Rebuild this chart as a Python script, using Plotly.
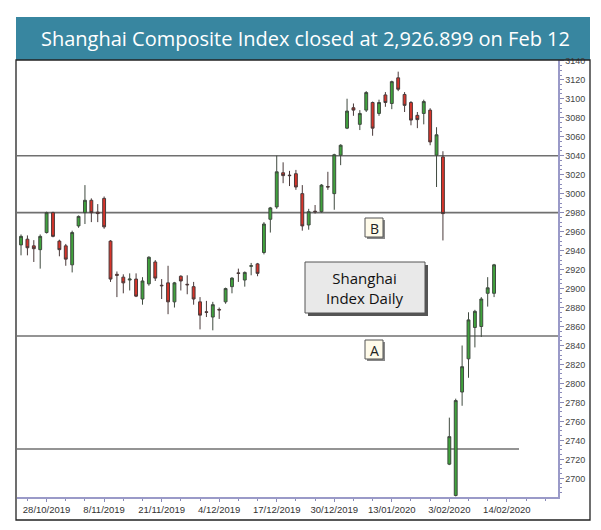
import plotly.graph_objects as go

# ---------------- data ----------------
dates = [
    "2019-10-22", "2019-10-23", "2019-10-24", "2019-10-25", "2019-10-28", "2019-10-29", "2019-10-30", "2019-10-31",
    "2019-11-01", "2019-11-04", "2019-11-05", "2019-11-06", "2019-11-07", "2019-11-08", "2019-11-11", "2019-11-12",
    "2019-11-13", "2019-11-14", "2019-11-15", "2019-11-18", "2019-11-19", "2019-11-20", "2019-11-21", "2019-11-22",
    "2019-11-25", "2019-11-26", "2019-11-27", "2019-11-28", "2019-11-29",
    "2019-12-02", "2019-12-03", "2019-12-04", "2019-12-05", "2019-12-06", "2019-12-09", "2019-12-10", "2019-12-11",
    "2019-12-12", "2019-12-13", "2019-12-16", "2019-12-17", "2019-12-18", "2019-12-19", "2019-12-20", "2019-12-23",
    "2019-12-24", "2019-12-25", "2019-12-26", "2019-12-27", "2019-12-30", "2019-12-31",
    "2020-01-02", "2020-01-03", "2020-01-06", "2020-01-07", "2020-01-08", "2020-01-09", "2020-01-10", "2020-01-13",
    "2020-01-14", "2020-01-15", "2020-01-16", "2020-01-17", "2020-01-20", "2020-01-21", "2020-01-22", "2020-01-23",
    "2020-02-03", "2020-02-04", "2020-02-05", "2020-02-06", "2020-02-07", "2020-02-10", "2020-02-11", "2020-02-12",
    "2020-02-13", "2020-02-14",
]

opens = [2946, 2952, 2945, 2941, 2959, 2980, 2950, 2945,
         2925, 2966, 2980, 2993, 2980.5, 2995, 2950, 2915,
         2912, 2909, 2910, 2889, 2905, 2928, 2903.5, 2906,
         2886, 2913, 2904.5, 2902, 2886,
         2875.5, 2870, 2878, 2886, 2902, 2916.5, 2909, 2923.5,
         2926, 2938, 2973, 2986, 3022, 3019.5, 3021, 3000,
         2967, 2981.5, 2981, 3007.5, 3000, 3040.5,
         3069, 3090.5, 3073, 3088, 3096, 3084.5, 3104, 3095,
         3122, 3104.5, 3096, 3082.5, 3084.5, 3088, 3040.5, 3038.7,
         2715, 2682, 2791, 2826, 2859, 2860, 2895, 2895]
highs = [2957, 2956, 2951, 2957, 2981, 2981, 2951.5, 2947,
         2961, 2977, 3009, 2995, 2989, 2997, 2951, 2918,
         2915, 2916, 2916, 2912, 2934, 2930, 2910, 2924,
         2907, 2914, 2914, 2907, 2891,
         2887, 2886, 2880, 2901, 2912, 2921, 2918, 2927,
         2927, 2970, 2986, 3040, 3033, 3024, 3025, 3009,
         2984, 2988, 3010, 3023, 3042, 3052,
         3100, 3095, 3088, 3108, 3097, 3099, 3107, 3119,
         3128.5, 3107, 3097.5, 3086, 3099, 3090, 3070, 3044.7,
         2764, 2784, 2840, 2875, 2877.6, 2891, 2912, 2926]
lows = [2935, 2935, 2928, 2921, 2958, 2954, 2934, 2924,
        2917, 2964, 2968, 2970, 2970, 2963, 2907, 2891,
        2895, 2898, 2891, 2883, 2903, 2908, 2889, 2873,
        2880, 2898, 2894, 2883, 2857,
        2870, 2856, 2868, 2884, 2895, 2907, 2902, 2914,
        2913, 2936, 2959, 2984, 3011, 3008, 3004, 2961,
        2962, 2979, 2980, 3004, 2983, 3030,
        3068, 3082, 3067, 3086, 3061, 3082, 3091.5, 3089,
        3108, 3086, 3072, 3069, 3073, 3051, 3007, 2950.7,
        2714, 2681, 2776.5, 2806, 2838, 2849, 2881, 2891]
closes = [2955, 2943, 2942, 2955, 2980, 2955, 2941, 2931,
          2959, 2976, 2993, 2980, 2979, 2965, 2910, 2914,
          2906, 2910, 2892, 2908, 2933, 2911, 2903, 2886,
          2906, 2908, 2904, 2889, 2872,
          2875, 2883, 2877.5, 2900, 2911, 2916, 2917, 2924,
          2916, 2968, 2985, 3023, 3019, 3019, 3007, 2966,
          2981, 2981, 3009, 3007, 3041, 3051,
          3087, 3088, 3084.5, 3106.5, 3069, 3096, 3096, 3118,
          3110, 3093, 3077.5, 3078, 3097, 3054.5, 3062, 2979,
          2744, 2782, 2817.7, 2867, 2876, 2889, 2900.8, 2925]

tick_dates = ["2019-10-28", "2019-11-08", "2019-11-21", "2019-12-04", "2019-12-17",
              "2019-12-30", "2020-01-13", "2020-02-03", "2020-02-14"]
tick_labels = ["28/10/2019", "8/11/2019", "21/11/2019", "4/12/2019", "17/12/2019",
               "30/12/2019", "13/01/2020", "3/02/2020", "14/02/2020"]

levels = [3040, 2980, 2850]
low_level = 2731

title_text = "Shanghai Composite Index closed at 2,926.899 on Feb 12"
box_text = "Shanghai<br>Index Daily"

# ---------------- figure ----------------
W, H = 601, 528
# plot area in window pixel coordinates
L, R, T, B = 17, 558, 60, 497


def px(x):
    return (x - L) / (R - L)


def py(y):
    return (B - y) / (B - T)


xs = list(range(len(opens)))
tickvals = [dates.index(d) for d in tick_dates]

fig = go.Figure()
fig.add_trace(go.Candlestick(
    x=xs, open=opens, high=highs, low=lows, close=closes,
    increasing=dict(line=dict(color="#3f4a3f", width=1), fillcolor="#3fa33c"),
    decreasing=dict(line=dict(color="#4a3a3a", width=1), fillcolor="#d8342a"),
    whiskerwidth=0, hoverinfo="skip", showlegend=False,
))

shapes = []
# banner
shapes.append(dict(type="rect", xref="paper", yref="paper", x0=px(16), x1=px(590), y0=py(60), y1=py(17),
                   fillcolor="#3886a0", line=dict(width=0), layer="below"))
# frame
shapes.append(dict(type="rect", xref="paper", yref="paper", x0=px(16), x1=px(590), y0=py(520), y1=py(60),
                   fillcolor="rgba(0,0,0,0)", line=dict(color="#222222", width=1.3), layer="above"))
# level lines
for lv in levels:
    shapes.append(dict(type="line", xref="paper", yref="y", x0=0, x1=1, y0=lv, y1=lv,
                       line=dict(color="#707070", width=1.6), layer="below"))
shapes.append(dict(type="line", xref="paper", yref="y", x0=0, x1=px(519), y0=low_level, y1=low_level,
                   line=dict(color="#707070", width=1.6), layer="below"))
# info box shadow + box
shapes.append(dict(type="rect", xref="paper", yref="paper", x0=px(308), x1=px(428), y0=py(316), y1=py(265),
                   fillcolor="#555555", line=dict(width=0), layer="above"))
shapes.append(dict(type="rect", xref="paper", yref="paper", x0=px(305), x1=px(425), y0=py(313), y1=py(262),
                   fillcolor="#e9e9e9", line=dict(color="#555555", width=1), layer="above"))
# A / B boxes with shadows
for cy in (228, 350):
    shapes.append(dict(type="rect", xref="paper", yref="paper", x0=px(367), x1=px(385), y0=py(cy + 11), y1=py(cy - 8),
                       fillcolor="#888888", line=dict(width=0), layer="above"))
    shapes.append(dict(type="rect", xref="paper", yref="paper", x0=px(365), x1=px(383), y0=py(cy + 9), y1=py(cy - 10),
                       fillcolor="#fffbea", line=dict(color="#555555", width=1), layer="above"))

annotations = [
    dict(text=title_text, xref="paper", yref="paper", x=px(305), y=py(38.5), showarrow=False,
         font=dict(family="Open Sans", size=20, color="white"), xanchor="center", yanchor="middle"),
    dict(text=box_text, xref="paper", yref="paper", x=px(365), y=py(287.5), showarrow=False,
         font=dict(family="Open Sans", size=15, color="#111111"), xanchor="center", yanchor="middle"),
    dict(text="B", xref="paper", yref="paper", x=px(374), y=py(228), showarrow=False,
         font=dict(family="Open Sans", size=14, color="#222222"), xanchor="center", yanchor="middle"),
    dict(text="A", xref="paper", yref="paper", x=px(374), y=py(350), showarrow=False,
         font=dict(family="Open Sans", size=14, color="#222222"), xanchor="center", yanchor="middle"),
]

fig.update_layout(
    width=W, height=H,
    margin=dict(l=L, r=W - R, t=T, b=H - B, pad=0, autoexpand=False),
    paper_bgcolor="white", plot_bgcolor="white",
    shapes=shapes, annotations=annotations,
    boxgap=0.36,
    showlegend=False,
    xaxis=dict(
        range=[-0.63, 84.0], rangeslider=dict(visible=False), automargin=False,
        tickmode="array", tickvals=tickvals, ticktext=tick_labels,
        ticks="outside", ticklen=3, tickcolor="#8a8ab8", tickwidth=1,
        showline=True, linecolor="#9a9ac8", linewidth=1.5, mirror=False,
        showgrid=False, zeroline=False,
        tickfont=dict(family="Liberation Sans", size=9.5, color="#333333"),
        minor=dict(tickmode="linear", tick0=1, dtick=3, ticks="outside", ticklen=2, tickcolor="#8a8ab8"),
    ),
    yaxis=dict(
        side="right", range=[2680.4, 3140.8], automargin=False,
        tickmode="linear", tick0=2700, dtick=20,
        ticks="outside", ticklen=4, tickcolor="#8a8ab8", tickwidth=1,
        showline=True, linecolor="#9a9ac8", linewidth=1.5,
        showgrid=False, zeroline=False,
        tickfont=dict(family="Liberation Sans", size=9, color="#444444"),
        minor=dict(tickmode="linear", dtick=5, ticks="outside", ticklen=2, tickcolor="#8a8ab8"),
    ),
)

page_fix = ("document.documentElement.style.margin='0';document.body.style.margin='0';"
            "document.documentElement.style.overflow='hidden';document.body.style.overflow='hidden';")
fig.write_html("out.html", post_script=page_fix, config={"displayModeBar": False, "staticPlot": True})
